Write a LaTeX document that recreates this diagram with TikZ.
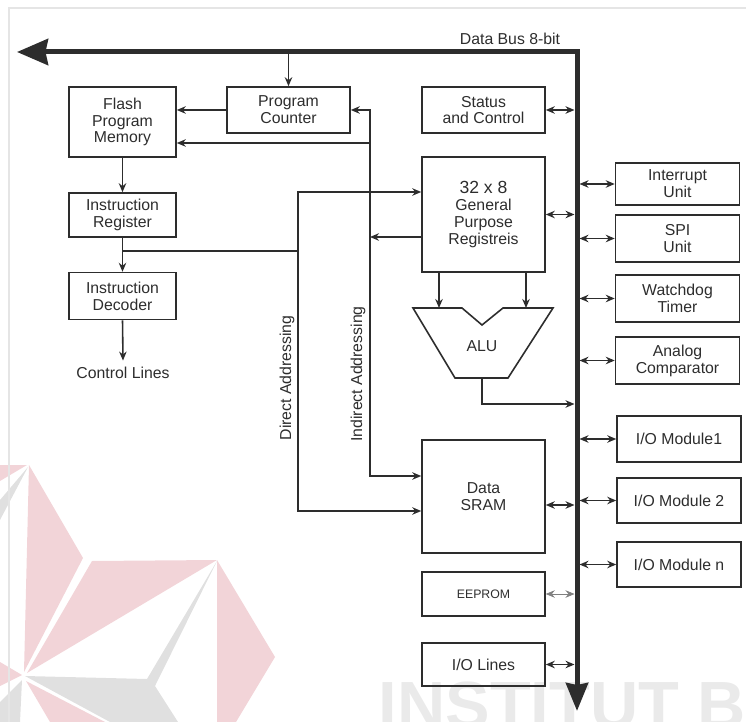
\documentclass[tikz,border=0pt]{standalone}
\usepackage{fontspec}
\setmainfont{Liberation Sans}
\usetikzlibrary{arrows.meta,positioning}

\definecolor{ink}{RGB}{45,45,45}
\definecolor{wmpink}{RGB}{242,212,216}
\definecolor{wmgrey}{RGB}{224,224,224}
\definecolor{wmtext}{RGB}{234,234,234}

\begin{document}
\begin{tikzpicture}[x=0.02cm, y=-0.02cm, line width=0.9pt, color=ink,
	main/.style = {draw, minimum width=2.46cm, minimum height=0.92cm, align=center, inner sep=1pt, font=\fontsize{9}{9.6}\selectfont},
	side/.style = {main, minimum width=2.48cm},
	bus/.style = {line width=0.1cm, line join=miter},
	>={Stealth[length=0.18cm, width=0.15cm]}]
	\clip (0,0) rectangle (746,722);

	% watermark in the background
	\fill[wmpink] (29,465) -- (83,558) -- (24,672) -- cycle;
	\fill[wmpink] (92,561) -- (217,560) -- (27,673) -- cycle;
	\fill[wmpink] (217,560) -- (275,657) -- (236,722) -- (217,722) -- cycle;
	\fill[wmpink] (0,465) -- (27,465) -- (0,481) -- cycle;
	\fill[wmpink] (0,662) -- (22,675) -- (0,686) -- cycle;
	\fill[wmpink] (26,681) -- (105,722) -- (50,722) -- cycle;
	\fill[wmgrey] (25,676) -- (147,679) -- (217,561) -- (155,686) -- (178,722) -- (110,722) -- cycle;
	\fill[wmgrey] (28,467) -- (0,500) -- (0,520) -- cycle;
	\fill[wmgrey] (22,680) -- (20,722) -- (0,722) -- (0,702) -- cycle;
	\node[wmtext, font=\fontsize{38}{38}\selectfont\bfseries, anchor=base west, inner sep=0] (wm) at (378,728) {INSTITUT B};
	\draw[gray!20, line width=0.03cm] (9,722) -- (9,8) -- (746,8);

	% program side
	\node[main, minimum width=2.14cm, minimum height=1.4cm] (1) at (122.5,122) {Flash\\Program\\Memory};
	\node[main] (2) at (288.5,110) {Program\\Counter};
	\node[main, minimum width=2.14cm, minimum height=0.88cm] (4) at (122.5,215) {Instruction\\Register};
	\node[main, minimum width=2.14cm, minimum height=0.94cm] (5) [below=0.68cm of 4] {Instruction\\Decoder};
	\node[font=\fontsize{9}{9.6}\selectfont] (cl) at (123,373) {Control Lines};

	% data side
	\node[main] (3) at (483.5,110) {Status\\and Control};
	\node[main, minimum height=2.3cm] (6) at (483.5,214.5) {{\fontsize{10}{11}\selectfont 32 x 8}\\General\\Purpose\\Registreis};
	\node[main, minimum height=2.26cm] (7) at (483.5,496.5) {Data\\SRAM};
	\node[main, minimum height=0.88cm, font=\fontsize{7}{8}\selectfont] (8) at (483.5,594) {EEPROM};
	\node[main, minimum height=0.86cm] (9) at (483.5,664.5) {I/O Lines};

	% peripherals
	\node[side, minimum height=0.84cm] (10) at (677.5,184) {Interrupt\\Unit};
	\node[side, minimum height=0.94cm] (11) at (677.5,238.5) {SPI\\Unit};
	\node[side, minimum height=0.94cm] (12) at (677.5,298.5) {Watchdog\\Timer};
	\node[side, minimum height=0.94cm] (13) at (677.5,360.5) {Analog\\Comparator};
	\node[side, minimum height=0.92cm] (14) at (679,439) {I/O Module1};
	\node[side, minimum height=0.9cm] (15) at (679,500.5) {I/O Module 2};
	\node[side, minimum height=0.9cm] (16) at (679,564.5) {I/O Module n};

	% ALU
	\draw (413,308) -- (462,308) -- (482,325) -- (503,308) -- (553,308) -- (508,378) -- (455,378) -- cycle;
	\node[font=\fontsize{9}{9.6}\selectfont] (alu) at (482,346) {ALU};

	% data bus
	\coordinate (bl) at (17,52);
	\coordinate (bt) at (577,52);
	\coordinate (bb) at (577,711);
	\coordinate (bw) at (574.5,52);
	\coordinate (be) at (579.5,52);
	\draw[bus, {Stealth[length=0.62cm, width=0.52cm, inset=0.05cm]}-{Stealth[length=0.56cm, width=0.44cm, inset=0.04cm]}] (bl) -- (bt) -- (bb);
	\node[font=\fontsize{9}{9.6}\selectfont] (db) at (510,39) {Data Bus 8-bit};

	\coordinate (7a) at ([yshift=-0.17cm]7.east);
	\foreach \n in {3,6,7a,9}
		\draw[<->] (\n) -- (\n -| bw);
	\draw[<->, gray, thin] (8.east) -- (8.east -| bw);
	\foreach \n in {10,...,16}
		\draw[<->] (\n.west -| be) -- (\n.west);

	% program flow
	\draw[->] (2.north |- bt) -- (2.north);
	\draw[->] (2.west) -- (2.west -| 1.east);
	\draw[->] (1.south) -- (4.north);
	\draw[->] (4.south) -- (5.north);
	\draw[->] (5.south) -- (cl.north);

	% addressing
	\coordinate (d1) at (298,192);
	\coordinate (d2) at (298,511);
	\coordinate (d3) at (122.5,251);
	\coordinate (i1) at (370,476);
	\coordinate (i2) at (370,143);
	\coordinate (i3) at (370,237);
	\draw (d3) -- (d3 -| d1);
	\draw[<->] (d1 -| 6.west) -- (d1) -- (d2) -- (d2 -| 7.west);
	\draw[<->] (2.east) -| (i1) -- (i1 -| 7.west);
	\draw[->] (i2) -- (i2 -| 1.east);
	\draw[->] (i3 -| 6.west) -- (i3);
	\node[rotate=90, font=\fontsize{9}{9.6}\selectfont] (da) at (287,378) {Direct Addressing};
	\node[rotate=90, font=\fontsize{9}{9.6}\selectfont] (ia) at (358,374) {Indirect Addressing};

	% ALU paths
	\coordinate (a1) at (439,308);
	\coordinate (a2) at (526,308);
	\coordinate (a3) at (482,378);
	\coordinate (a4) at (574.5,404);
	\draw[->] (6.south -| a1) -- (a1);
	\draw[->] (6.south -| a2) -- (a2);
	\draw[->] (a3) |- (a4);
\end{tikzpicture}
\end{document}
